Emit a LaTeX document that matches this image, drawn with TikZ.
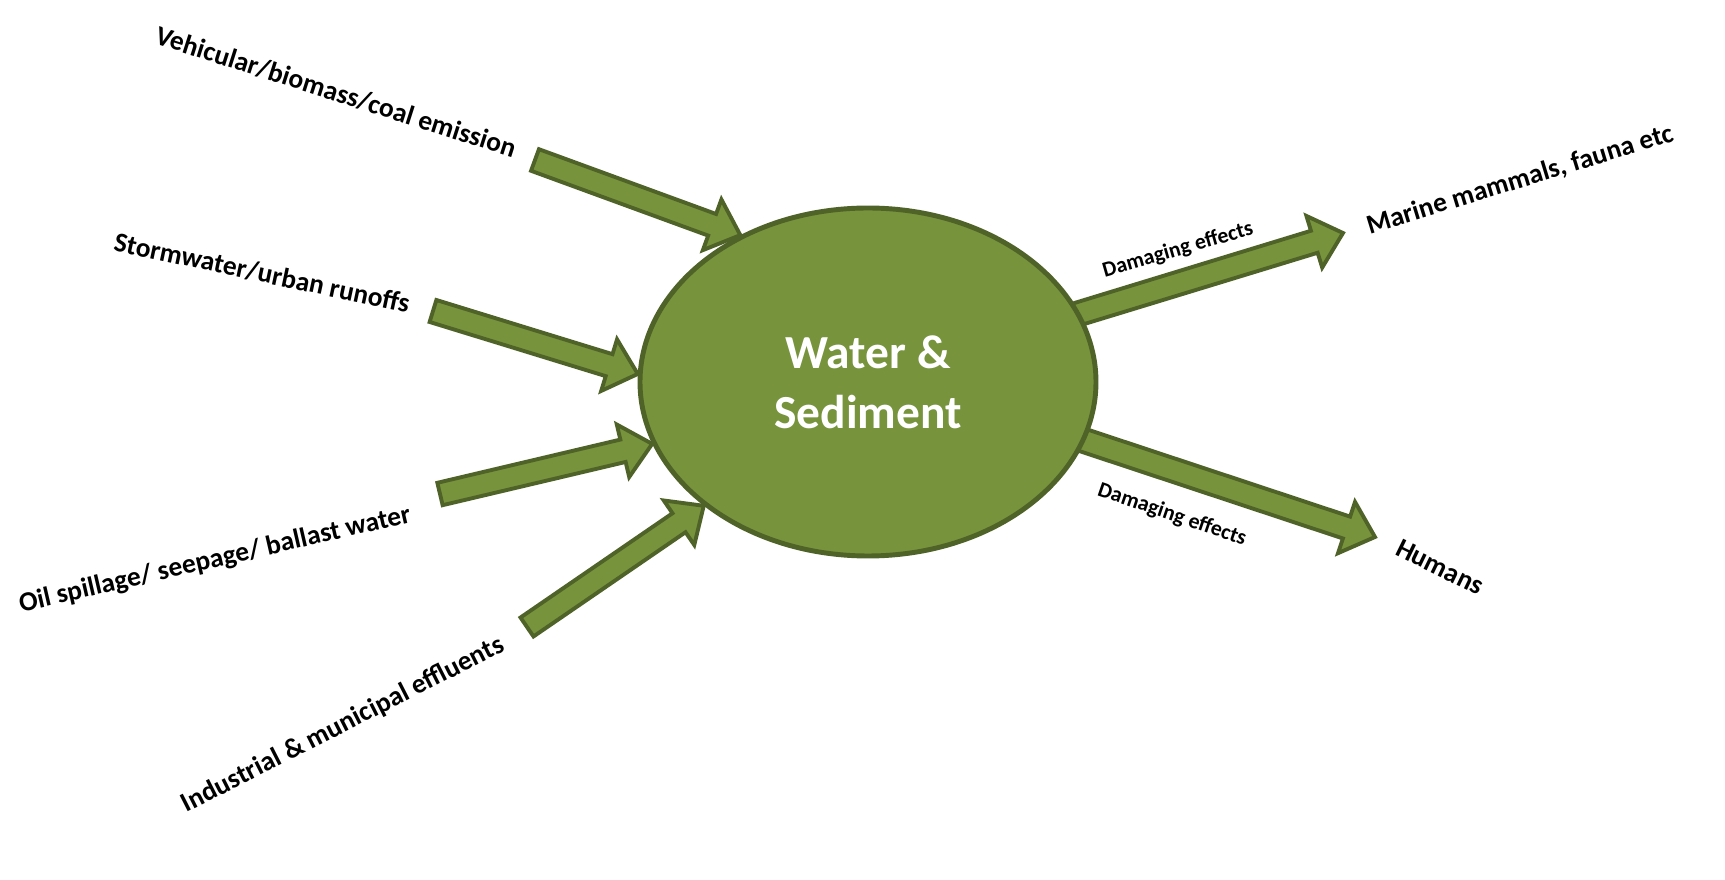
\documentclass[tikz,border=0pt]{standalone}
\usepackage{fontspec}
\setmainfont{Carlito}
\usepackage{tikz}
\usetikzlibrary{shapes.geometric,calc,backgrounds}
\definecolor{oliveFill}{RGB}{119,147,60}
\definecolor{oliveEdge}{RGB}{79,98,40}

\begin{document}
\begin{tikzpicture}[
    src label/.style={font=\bfseries\fontsize{7.8}{9}\selectfont, inner sep=0pt},
    effect label/.style={font=\bfseries\fontsize{6.2}{7}\selectfont, inner sep=0pt},
    hub/.style={ellipse, draw=oliveEdge, fill=oliveFill, line width=1.4pt, text=white, align=center,
        minimum width=4.56cm, minimum height=3.48cm, font=\bfseries\fontsize{13.5}{17}\selectfont},
    fat arrow/.style={draw=oliveEdge, fill=oliveFill, line width=1.1pt, line join=miter,
        to path={let \p1=(\tikztostart), \p2=(\tikztotarget), \n1={atan2(\y2-\y1,\x2-\x1)} in
            ($(\p1)+(\n1+90:0.115cm)$) -- ($(\p2)+(\n1:-0.3cm)+(\n1+90:0.115cm)$)
            -- ($(\p2)+(\n1:-0.3cm)+(\n1+90:0.27cm)$) -- (\p2)
            -- ($(\p2)+(\n1:-0.3cm)+(\n1-90:0.27cm)$) -- ($(\p2)+(\n1:-0.3cm)+(\n1-90:0.115cm)$)
            -- ($(\p1)+(\n1-90:0.115cm)$) -- cycle}}]
    \useasboundingbox (0,0) rectangle (17.25,8.8);

    \node[hub] (ws) at (8.68,4.98) {Water \&\\Sediment};

    \node[src label, rotate=-17.7] (veh) at (3.36,7.88) {Vehicular/biomass/coal emission};
    \node[src label, rotate=-12] (storm) at (2.62,6.07) {Stormwater/urban runoffs};
    \node[src label, rotate=13] (oil) at (2.15,3.20) {Oil spillage/ seepage/ ballast water};
    \node[src label, rotate=27] (ind) at (3.43,1.55) {Industrial \& municipal effluents};
    \node[src label, rotate=17] (marine) at (15.20,7.00) {Marine mammals, fauna etc};
    \node[src label, rotate=-26] (humans) at (14.40,3.13) {Humans};
    \node[effect label, rotate=16] (dmg top) at (11.78,6.30) {Damaging effects};
    \node[effect label, rotate=-19] (dmg bot) at (11.72,3.65) {Damaging effects};

    \coordinate (veh tail) at (5.35,7.20);
    \coordinate (storm tail) at (4.33,5.69);
    \coordinate (oil tail) at (4.40,3.86);
    \coordinate (ind tail) at (5.27,2.53);
    \coordinate (marine tip) at (13.43,6.47);
    \coordinate (humans tip) at (13.75,3.43);

    \draw[fat arrow] (veh tail) to (ws.131);
    \draw[fat arrow] (storm tail) to (ws.178);
    \draw[fat arrow] (oil tail) to (ws.196);
    \draw[fat arrow] (ind tail) to (ws.217);

    \begin{pgfonlayer}{background}
        \fill[white] (0,0) rectangle (17.25,8.8);
        \draw[fat arrow] ($(ws.center)!0.95!(ws.18)$) to (marine tip);
        \draw[fat arrow] ($(ws.center)!0.95!(ws.345)$) to (humans tip);
    \end{pgfonlayer}
\end{tikzpicture}
\end{document}
